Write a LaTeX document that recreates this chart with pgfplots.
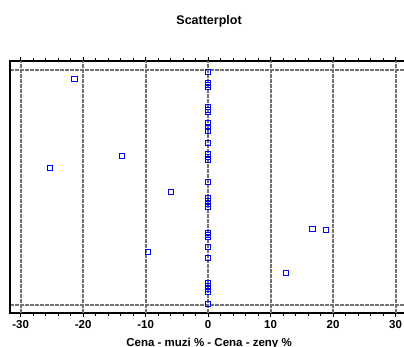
\documentclass[border=0pt]{standalone}
\usepackage{pgfplots}
\pgfplotsset{compat=1.18}
\usepackage{fontspec}
\setmainfont{Liberation Sans}

% Paired differences: price for men minus price for women, in percent.
% Second column is the case position along the vertical axis.
\pgfplotstableread{
dx   pos
0    233
0    222
0    220
0    218
0    198
0    195
0    193
0    182
0    178
0    174
0    162
0    151
0    148
0    145
0    123
0    107
0    104
0    101
0    98
0    72
0    70
0    68
0    58
0    47
0    22
0    19
0    16
0    13
0    1
-21.4 226
-13.8 149
-25.3 137
-5.9  113
-9.6  53
16.7  76
18.8  75
12.5  32
}\cases

\begin{document}
\begin{tikzpicture}
\useasboundingbox (0,0) rectangle (404pt,347pt);
\clip (0,0) rectangle (404pt,347pt);
\begin{axis}[
  at={(10pt,34pt)}, anchor=south west,
  scale only axis,
  width=398.125pt, height=252pt,
  xmin=-31.7, xmax=32,
  ymin=-8, ymax=244,
  xtick={-30,-20,...,30},
  minor x tick num=4,
  ytick={0,235},
  yticklabels={},
  ytick style={draw=none},
  tick align=outside,
  xtick pos=both,
  major tick length=4pt,
  minor tick length=3pt,
  every tick/.style={black, line width=0.9pt},
  axis line style={black, line width=1.5pt},
  font=\bfseries\fontsize{11.5}{13}\selectfont,
  /pgf/number format/assume math mode=true,
  xticklabel style={font=\bfseries\fontsize{11.5}{13}\selectfont},
  title={Scatterplot},
  title style={at={(axis description cs:0.5,1)}, anchor=base, yshift=30pt,
    font=\bfseries\fontsize{12.5}{14}\selectfont},
  xlabel={Cena - muzi \% - Cena - zeny \%},
  xlabel style={at={(axis description cs:0.5,0)}, anchor=base, yshift=-34pt,
    font=\bfseries\fontsize{11.5}{13}\selectfont},
]
% dashed reference lines at the major x ticks and at both ends of the case range
\pgfplotsinvokeforeach{-30,-20,-10,0,10,20,30}{
  \draw[black!55, line width=2.2pt, dash pattern=on 3.5pt off 1.5pt]
    (axis cs:#1,-8) -- (axis cs:#1,244);
}
\pgfplotsinvokeforeach{0,235}{
  \draw[black!55, line width=2.2pt, dash pattern=on 3.5pt off 1.5pt]
    (axis cs:-31.7,#1) -- (axis cs:32,#1);
}
\addplot[only marks, mark=square, mark size=2.6pt,
  mark options={blue, line width=0.9pt, fill=none}] table[x=dx, y=pos] {\cases};
% heavier left frame line
\draw[black, line width=2.6pt] (axis description cs:0,0) -- (axis description cs:0,1);
\end{axis}
\end{tikzpicture}
\end{document}
